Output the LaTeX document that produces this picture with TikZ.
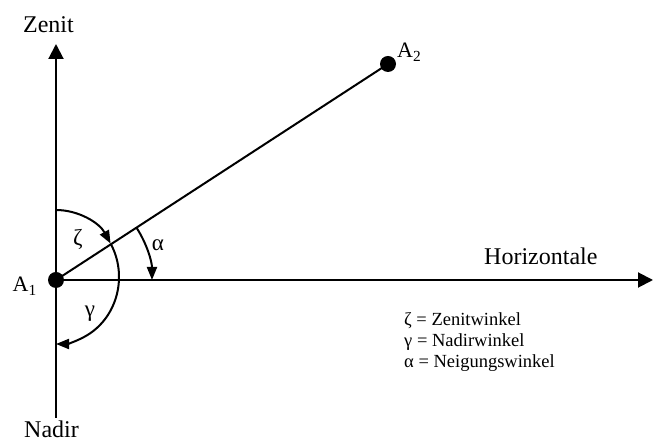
\documentclass[tikz,border=0pt]{standalone}
\usepackage{fontspec}
\setmainfont{Liberation Serif}
\usetikzlibrary{arrows.meta}
\tikzset{
  axis/.style={line width=2pt, -{Triangle[width=15pt,length=15pt]}},
  plain/.style={line width=2pt},
  anglearc/.style={line width=2pt, -{Triangle[width=10pt,length=13pt]}},
  pt/.style={circle, fill=black, inner sep=0pt, minimum size=16pt},
  lbl/.style={font=\fontsize{24}{28}\selectfont, inner sep=0pt},
  glbl/.style={font=\fontsize{23}{26}\selectfont, inner sep=0pt},
  legend/.style={font=\fontsize{18.5}{21}\selectfont, inner sep=0pt, align=left, anchor=north west}
}
\begin{document}
\begin{tikzpicture}[x=1pt,y=1pt]
\useasboundingbox (0,0) rectangle (654,444);
% key points
\coordinate (A1c) at (56,164);
\coordinate (ztop) at (56,400);
\coordinate (nbot) at (56,26);
\coordinate (hend) at (653,164);
\coordinate (zs) at (56,234);
\coordinate (gs) at ({56+63*cos(30)},{167+67*sin(30)});
\coordinate (as) at (136.5,216.3);
% axes
\draw[plain] (A1c) -- (nbot);
\draw[axis] (A1c) -- (ztop);
\draw[axis] (A1c) -- (hend);
% points
\node[pt] (A1) at (A1c) {};
\node[pt] (A2) at (388,380) {};
\draw[plain] (A1.center) -- (A2.center);
% angle arcs
\draw[anglearc] (zs) arc[start angle=90, end angle=30, x radius=63, y radius=67];
\draw[anglearc] (gs) arc[start angle=30, end angle=-90, x radius=63, y radius=67];
\draw[anglearc] (as) arc[start angle=33, end angle=0, radius=96];
% labels
\node[lbl, anchor=base] (zen) at (48.5,411) {Zenit};
\node[lbl, anchor=base] (nad) at (51.5,6) {Nadir};
\node[lbl, anchor=base west] (hor) at (484,179) {Horizontale};
\node[font=\fontsize{22}{26}\selectfont, inner sep=0pt, anchor=base east] (a1l) at (37,152) {A\textsubscript{1}};
\node[font=\fontsize{22}{26}\selectfont, inner sep=0pt, anchor=base west] (a2l) at (397,386) {A\textsubscript{2}};
\node[glbl] (zeta) at (78,205) {ζ};
\node[glbl] (alpha) at (158,199) {α};
\node[glbl] (gamma) at (90,130) {γ};
\node[legend] (leg) at (404,132) {ζ = Zenitwinkel\\γ = Nadirwinkel\\α = Neigungswinkel};
\end{tikzpicture}
\end{document}
